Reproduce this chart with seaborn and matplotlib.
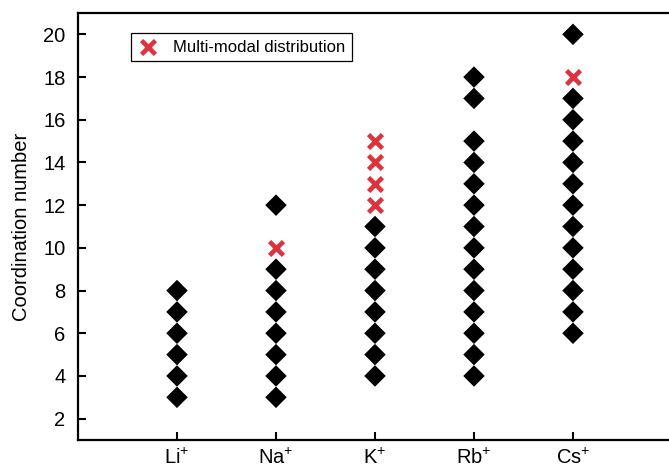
import matplotlib
matplotlib.use("Agg")
import matplotlib.pyplot as plt
import seaborn as sns
import pandas as pd

# Coordination numbers per ion
ions = ["Li", "Na", "K", "Rb", "Cs"]
single_cn = {
    "Li": [3, 4, 5, 6, 7, 8],
    "Na": [3, 4, 5, 6, 7, 8, 9, 12],
    "K": [4, 5, 6, 7, 8, 9, 10, 11],
    "Rb": [4, 5, 6, 7, 8, 9, 10, 11, 12, 13, 14, 15, 17, 18],
    "Cs": [6, 7, 8, 9, 10, 11, 12, 13, 14, 15, 16, 17, 20],
}
multi_cn = {
    "Li": [],
    "Na": [10],
    "K": [12, 13, 14, 15],
    "Rb": [],
    "Cs": [18],
}
y_ticks = [2, 4, 6, 8, 10, 12, 14, 16, 18, 20]

sns.set_style("ticks")
plt.rcParams["font.family"] = ["Liberation Sans", "DejaVu Sans"]
plt.rcParams["mathtext.fontset"] = "custom"
plt.rcParams["mathtext.rm"] = "Liberation Sans"
plt.rcParams["text.color"] = "black"
plt.rcParams["axes.labelcolor"] = "black"
plt.rcParams["xtick.color"] = "black"
plt.rcParams["ytick.color"] = "black"

labels = [f"{ion}$^{{\\mathregular{{+}}}}$" for ion in ions]
rows = []
for ion, lab in zip(ions, labels):
    for v in single_cn[ion]:
        rows.append({"ion": lab, "cn": v, "kind": "single"})
    for v in multi_cn[ion]:
        rows.append({"ion": lab, "cn": v, "kind": "multi"})
df = pd.DataFrame(rows)
df["ion"] = pd.Categorical(df["ion"], categories=labels, ordered=True)
df["xpos"] = df["ion"].cat.codes

fig = plt.figure(figsize=(6.69, 4.69), dpi=100)
ax = fig.add_axes([0.1166, 0.0618, 0.8834, 0.9105])

single = df[df["kind"] == "single"]
multi = df[df["kind"] == "multi"]
sns.scatterplot(data=single, x="xpos", y="cn", marker="D", color="black",
                s=120, edgecolor="none", ax=ax, legend=False)
ax.scatter(multi["xpos"], multi["cn"], marker="x", color="#e0323c", s=100,
           linewidths=3.3, label="Multi-modal distribution", zorder=3)

ax.set_xlim(-1, 4.97)
ax.set_ylim(1, 21)
ax.set_xticks(range(len(labels)))
ax.set_xticklabels(labels)
ax.set_yticks(y_ticks)
ax.set_xlabel("")
ax.set_ylabel("Coordination number", fontsize=14.5, labelpad=9)

ax.tick_params(axis="both", direction="in", length=6, width=1.5, labelsize=14.5)
ax.tick_params(axis="y", pad=9)
ax.tick_params(axis="x", pad=6)
for side in ["left", "bottom", "top"]:
    ax.spines[side].set_linewidth(1.6)
    ax.spines[side].set_color("black")
ax.spines["right"].set_visible(False)

leg = ax.legend(loc="upper left", bbox_to_anchor=(0.09, 0.953), borderaxespad=0,
                fancybox=False, framealpha=1, edgecolor="black", fontsize=12,
                handletextpad=0.9, borderpad=0.4, handlelength=1.2)
leg.get_frame().set_linewidth(0.9)

fig.savefig("out.png", dpi=100)
